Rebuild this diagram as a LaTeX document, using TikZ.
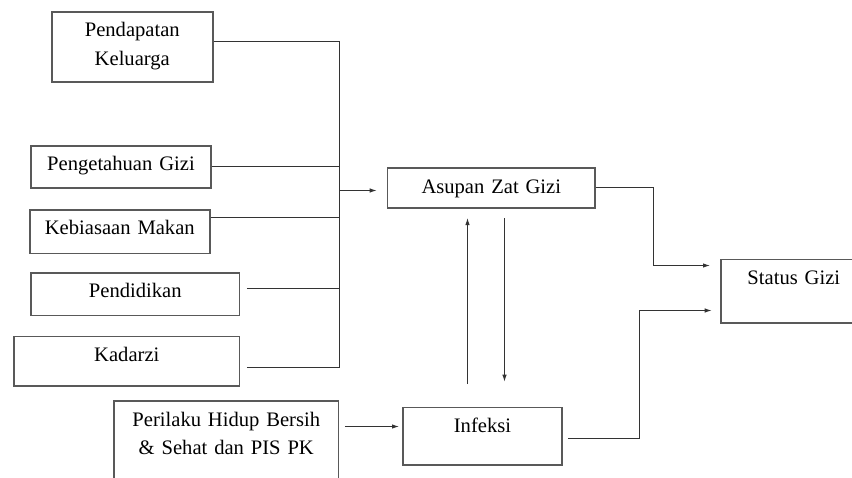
\documentclass[tikz,border=0pt]{standalone}
\usepackage{fontspec}
\setmainfont{Liberation Serif}
\usetikzlibrary{arrows.meta,calc}

\tikzset{
  kotak/.style={draw=black!65, line width=1.6pt, inner sep=0pt, anchor=north west,
    align=center, text height=25pt, font=\fontsize{20.6}{28.3}\selectfont},
  garis/.style={draw=black!80, line width=1pt},
  panah/.style={garis, -{Latex[length=7pt,width=4.5pt]}}
}

\begin{document}
\begin{tikzpicture}[x=1pt, y=-1pt, line cap=butt, line join=miter]
  \useasboundingbox (0,0) rectangle (852,477);
  \clip (0,0) rectangle (852,477);

  % Faktor-faktor di kiri
  \node[kotak, text width=161pt, text depth=45pt]   (pend) at (51,11)    {Pendapatan\\Keluarga};
  \node[kotak, text width=179.7pt, text depth=17.3pt] (peng) at (30.3,145) {Pengetahuan Gizi};
  \node[kotak, text width=180pt, text depth=18.7pt] (kebi) at (29,209)   {Kebiasaan Makan};
  \node[kotak, text width=208.4pt, text depth=17.7pt] (pddk) at (30.3,272) {Pendidikan};
  \node[kotak, text width=225.4pt, text depth=24.3pt] (kdz) at (13.3,335.7) {Kadarzi};
  \node[kotak, text width=224.4pt, text depth=74pt] (peri) at (113.3,400.3) {Perilaku Hidup Bersih\\\& Sehat dan PIS PK};

  % Kotak tengah dan kanan
  \node[kotak, text width=207.6pt, text depth=14.7pt] (asup) at (386.7,167.3) {Asupan Zat Gizi};
  \node[kotak, text width=158.7pt, text depth=32.6pt] (inf) at (402.3,406.7) {Infeksi};
  \node[kotak, text width=146pt, text depth=38.6pt] (status) at (720,258.7) {Status Gizi};

  % Titik bantu
  \coordinate (busA) at (339.5,41.5);
  \coordinate (busB) at (339.5,366.5);
  \coordinate (busM) at (339.5,190.5);
  \coordinate (kA) at (653.5,265.5);
  \coordinate (kB) at (639.5,310.5);
  \coordinate (pIn) at (0,426.5);
  \coordinate (up) at (467.5,0);
  \coordinate (dn) at (504.5,0);

  % Garis pengumpul
  \draw[garis] (pend.east |- busA) -- (busA) -- (busB);
  \draw[garis] ($(peng.east)+(0,-0.5)$) -- ($(peng.east -| busA)+(0,-0.5)$);
  \draw[garis] ($(kebi.north east)+(0,8.5)$) -- ($(kebi.north east -| busA)+(0,8.5)$);
  \draw[garis] ($(pddk.east)+(6.6,-5.5)$) -- ($(pddk.east -| busA)+(0,-5.5)$);
  \draw[garis] ($(kdz.east)+(6.6,6)$) -- ($(kdz.east -| busA)+(0,6)$);
  \draw[panah, shorten >=10pt] (busM) -- (asup.west |- busM);

  % Panah ke Status Gizi
  \draw[panah, shorten >=10pt] (asup.east |- 0,187.5) -| (kA) -- (status.west |- kA);
  \draw[panah, shorten >=8.3pt] ($(inf.east)+(5.7,2.5)$) -| (kB) -- (status.west |- kB);

  % Hubungan timbal balik
  \draw[panah, shorten <=22.7pt, shorten >=9.4pt] (inf.north -| up) -- (asup.south -| up);
  \draw[panah, shorten <=9.4pt, shorten >=25pt] (asup.south -| dn) -- (inf.north -| dn);
  \draw[panah, shorten <=5.6pt, shorten >=3.3pt] (peri.east |- pIn) -- (inf.west |- pIn);
\end{tikzpicture}
\end{document}
